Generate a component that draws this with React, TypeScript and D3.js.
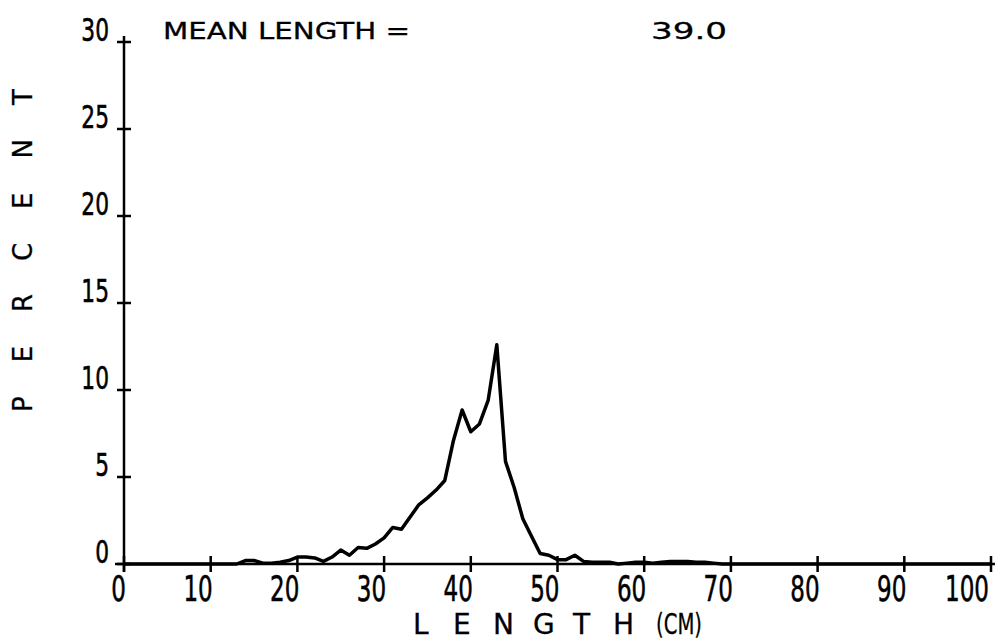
import React from "react";
import * as d3 from "d3";

const lengths = [0, 13, 14, 15, 16, 17, 18, 19, 20, 21, 22, 23, 24, 25, 26, 27, 28, 29, 30, 31, 32, 33, 34, 35, 36, 37, 38, 39, 40, 41, 42, 43, 44, 45, 46, 47, 48, 49, 50, 51, 52, 53, 54, 55, 56, 57, 58, 59, 60, 61, 62, 63, 64, 65, 66, 67, 68, 69, 100];
const percents = [0, 0, 0.2, 0.2, 0.05, 0.05, 0.1, 0.2, 0.4, 0.4, 0.35, 0.15, 0.4, 0.8, 0.5, 0.95, 0.9, 1.15, 1.5, 2.1, 2.0, 2.7, 3.4, 3.8, 4.25, 4.8, 7.1, 8.85, 7.6, 8.05, 9.4, 12.6, 5.9, 4.4, 2.6, 1.6, 0.6, 0.5, 0.25, 0.25, 0.5, 0.15, 0.1, 0.1, 0.1, 0, 0.05, 0.1, 0.1, 0.05, 0.1, 0.15, 0.15, 0.15, 0.1, 0.1, 0.05, 0, 0];
const xTicks = [0, 10, 20, 30, 40, 50, 60, 70, 80, 90, 100];
const yTicks = [0, 5, 10, 15, 20, 25, 30];
const meanLabel = "MEAN LENGTH =";
const meanValue = "39.0";
const xTitle = ["L", "E", "N", "G", "T", "H"];
const xTitleUnit = "(CM)";
const yTitle = "PERCENT";

const FONT = "'DejaVu Sans', sans-serif";

export default function App() {
  const W = 996, H = 643;
  const x = d3.scaleLinear().domain([0, 100]).range([124, 991]);
  const y = d3.scaleLinear().domain([0, 30]).range([564, 42]);
  const line = d3.line<number>().x((_, i) => x(lengths[i])).y((d) => y(d));
  const path = line(percents) || "";

  return (
    <svg width={W} height={H} style={{ position: "absolute", left: 0, top: 0, background: "#fff" }}>
      <rect width={W} height={H} fill="#fff" />
      {/* axes */}
      <line x1={x(0)} x2={x(0)} y1={y(30) - 6} y2={y(0) + 8} stroke="#000" strokeWidth={2.5} />
      <line x1={x(0) - 9} x2={x(100) + 4} y1={y(0)} y2={y(0)} stroke="#000" strokeWidth={2.5} />
      {yTicks.map((t) => (
        <g key={"yt" + t}>
          <line x1={x(0) - 7} x2={x(0) + 7} y1={y(t)} y2={y(t)} stroke="#000" strokeWidth={2.5} />
          <text transform={`translate(109,${y(t) - 1}) scale(0.68,1)`} textAnchor="end"
            fontFamily={FONT} fontSize={32} stroke="#000" strokeWidth={0.6}>{t}</text>
        </g>
      ))}
      {xTicks.map((t) => (
        <g key={"xt" + t}>
          <line x1={x(t)} x2={x(t)} y1={y(0) - 8} y2={y(0) + 8} stroke="#000" strokeWidth={2.5} />
          <text transform={`translate(${Math.min(x(t) + 2, 989)},601) scale(0.64,1)`} textAnchor="end"
            fontFamily={FONT} fontSize={36} stroke="#000" strokeWidth={0.6}>{t}</text>
        </g>
      ))}
      {/* data curve */}
      <path d={path} fill="none" stroke="#000" strokeWidth={3.5} strokeLinejoin="round" />
      {/* titles */}
      <text x={163} y={39} fontFamily={FONT} fontSize={23} stroke="#000" strokeWidth={0.3}
        textLength={247} lengthAdjust="spacingAndGlyphs">{meanLabel}</text>
      <text x={651} y={39} fontFamily={FONT} fontSize={23} stroke="#000" strokeWidth={0.3}
        textLength={76} lengthAdjust="spacingAndGlyphs">{meanValue}</text>
      {xTitle.map((c, i) => (
        <text key={"xl" + i} x={413 + i * 40} y={634} fontFamily={FONT} fontSize={28}
          stroke="#000" strokeWidth={0.3}>{c}</text>
      ))}
      <text x={656} y={634} fontFamily={FONT} fontSize={28} stroke="#000" strokeWidth={0.3}
        textLength={46} lengthAdjust="spacingAndGlyphs">{xTitleUnit}</text>
      <text transform="translate(32,412) rotate(-90)" fontFamily={FONT} fontSize={26}
        stroke="#000" strokeWidth={0.3} letterSpacing={34}>{yTitle}</text>
    </svg>
  );
}
